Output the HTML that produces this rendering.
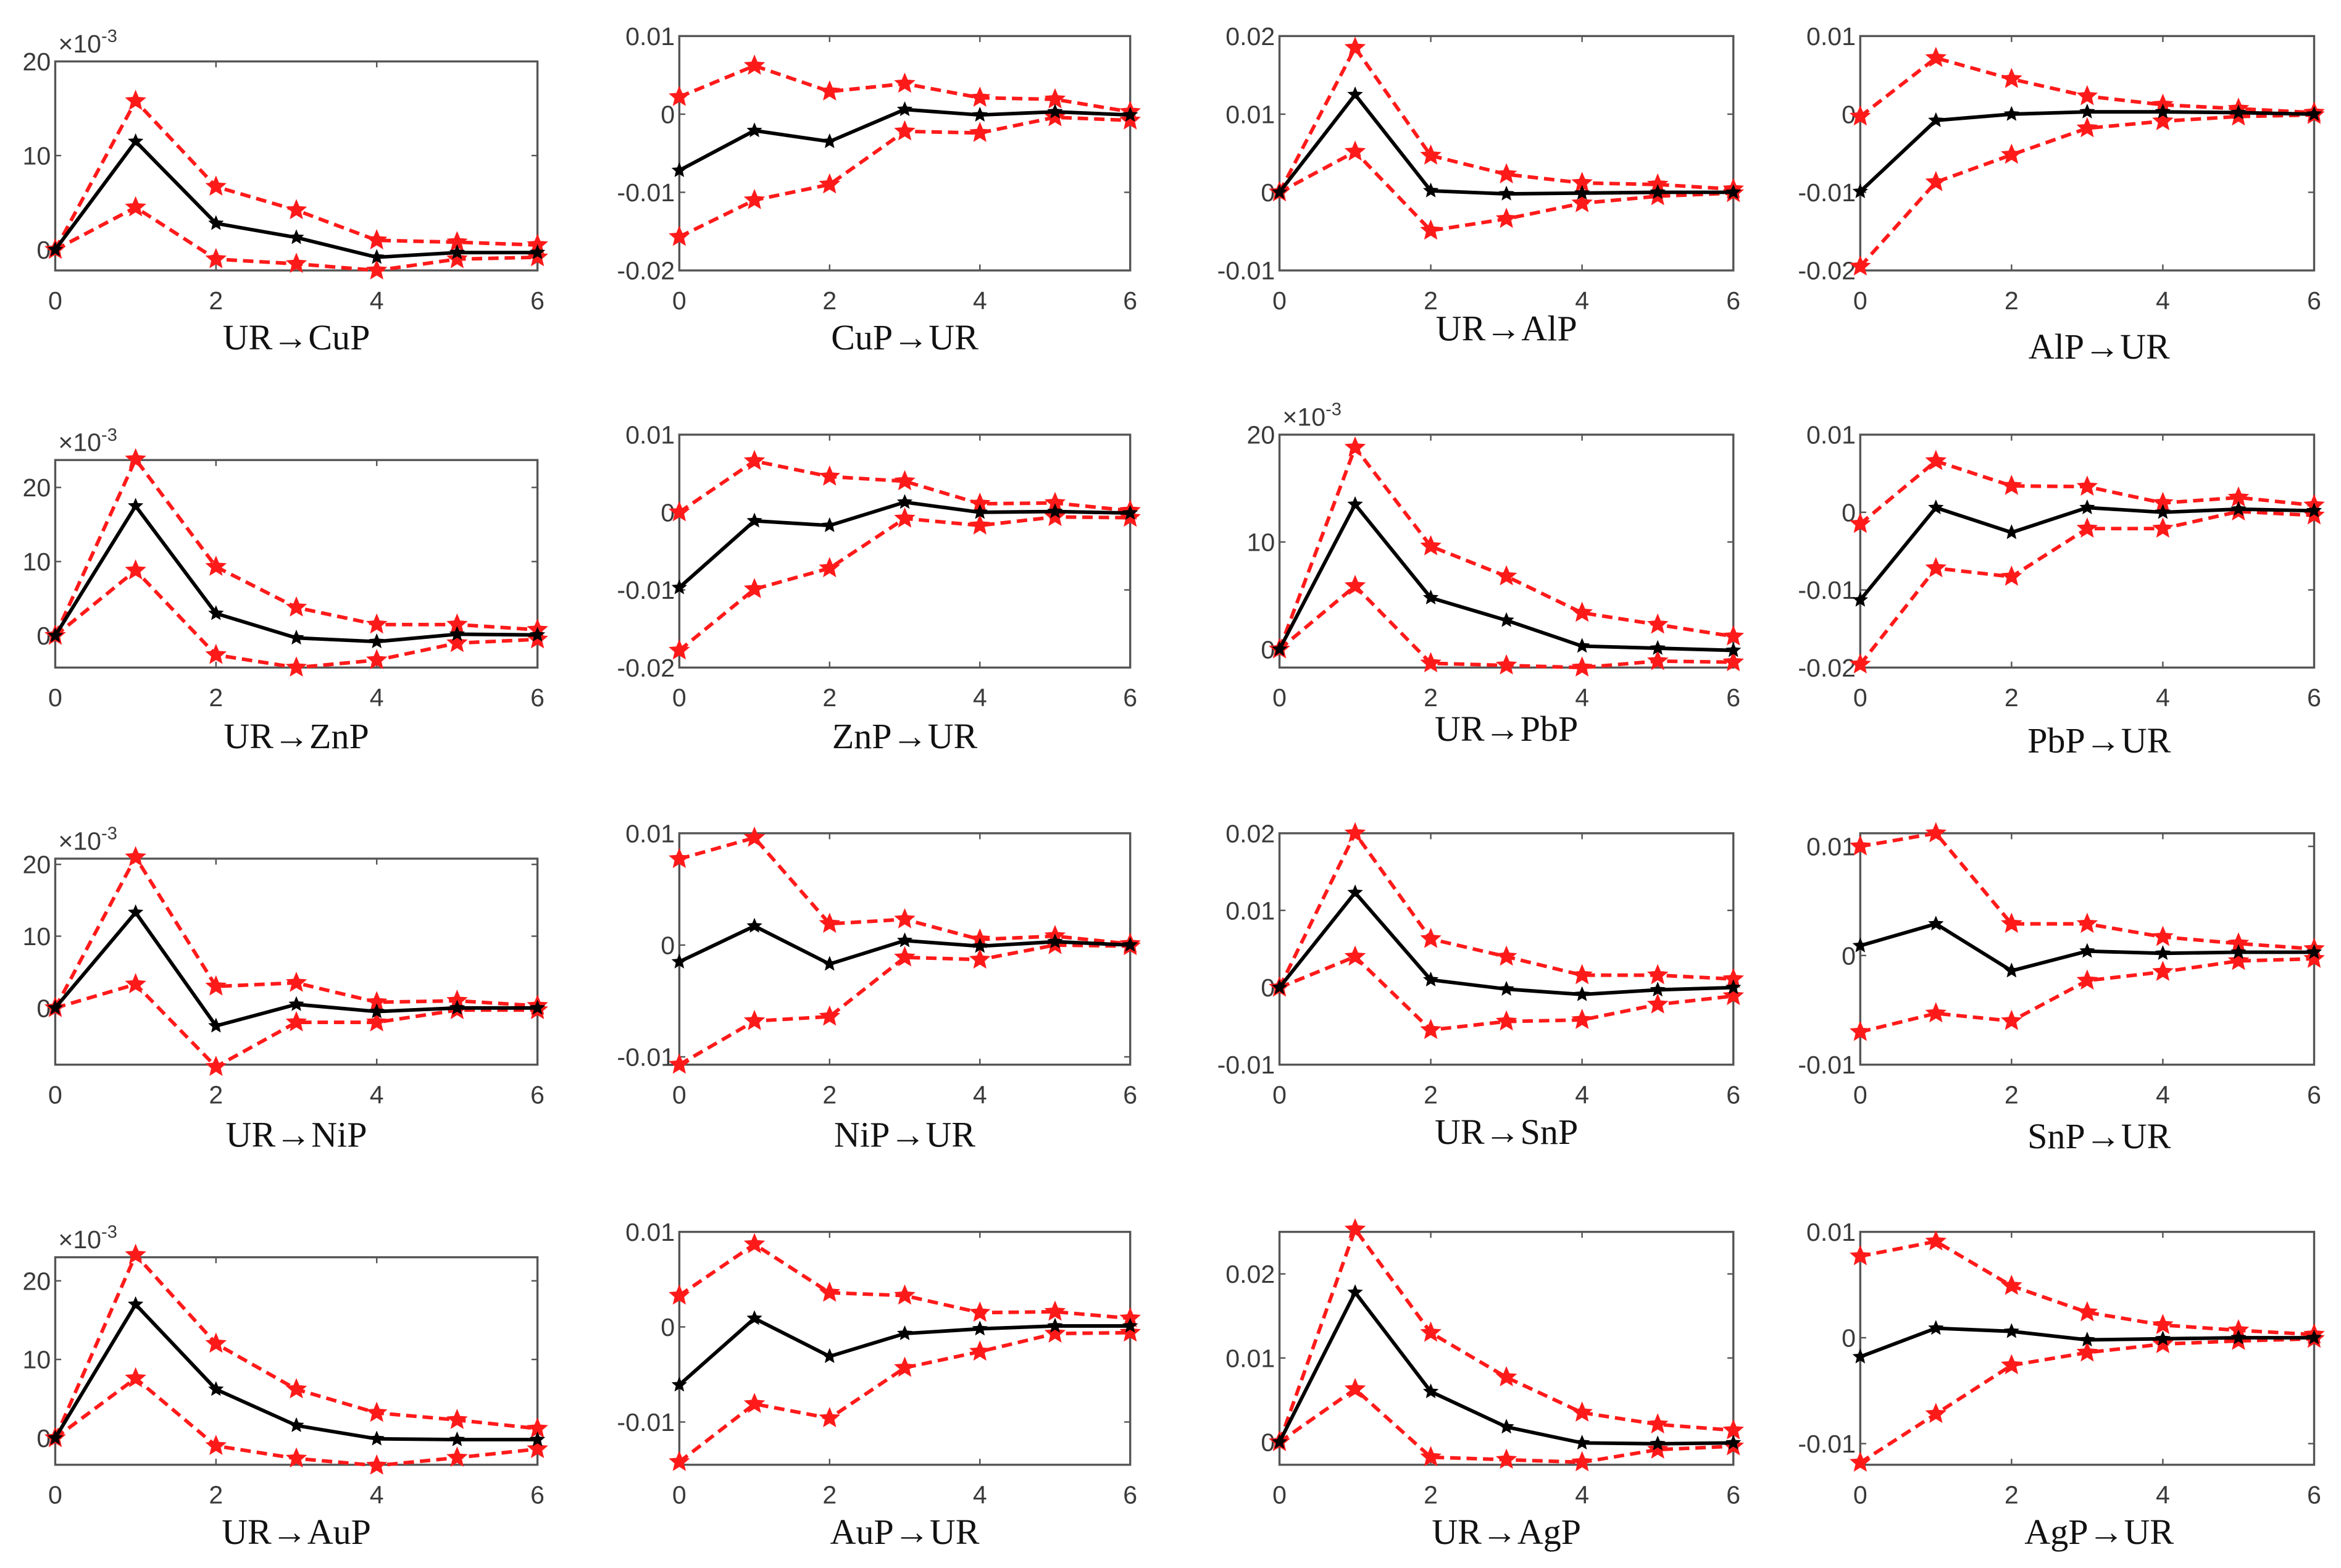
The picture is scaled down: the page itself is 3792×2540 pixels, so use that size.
<!DOCTYPE html>
<html><head><meta charset="utf-8"><style>
html,body{margin:0;padding:0;background:#fff}
svg{display:block}
.tk{font-family:"Liberation Sans",sans-serif;font-size:17px;fill:#3a3a3a}
.ti{font-family:"Liberation Serif",serif;font-size:24px;fill:#111}
</style></head><body>
<svg id="fig" xmlns="http://www.w3.org/2000/svg" width="3792" height="2540" viewBox="0 0 1568 1050"></svg>
<script>
const titles=["UR→CuP","CuP→UR","UR→AlP","AlP→UR","UR→ZnP","ZnP→UR","UR→PbP","PbP→UR","UR→NiP","NiP→UR","UR→SnP","SnP→UR","UR→AuP","AuP→UR","UR→AgP","AgP→UR"];
const periods=[0,1,2,3,4,5,6];
const xTicks=[0,2,4,6];
const yRanges=[[-2.2,20],[-0.02,0.01],[-0.01,0.02],[-0.02,0.01],[-4.3,23.7],[-0.02,0.01],[-1.7,20],[-0.02,0.01],[-7.9,20.8],[-0.0107,0.01],[-0.01,0.02],[-0.01,0.0112],[-3.4,23],[-0.0145,0.01],[-0.0027,0.025],[-0.012,0.01]];
const yTicks=[[0,10,20],[-0.02,-0.01,0,0.01],[-0.01,0,0.01,0.02],[-0.02,-0.01,0,0.01],[0,10,20],[-0.02,-0.01,0,0.01],[0,10,20],[-0.02,-0.01,0,0.01],[0,10,20],[-0.01,0,0.01],[-0.01,0,0.01,0.02],[-0.01,0,0.01],[0,10,20],[-0.01,0,0.01],[0,0.01,0.02],[-0.01,0,0.01]];
const yTickLabels=[["0","10","20"],["-0.02","-0.01","0","0.01"],["-0.01","0","0.01","0.02"],["-0.02","-0.01","0","0.01"],["0","10","20"],["-0.02","-0.01","0","0.01"],["0","10","20"],["-0.02","-0.01","0","0.01"],["0","10","20"],["-0.01","0","0.01"],["-0.01","0","0.01","0.02"],["-0.01","0","0.01"],["0","10","20"],["-0.01","0","0.01"],["0","0.01","0.02"],["-0.01","0","0.01"]];
const scaled=[true,false,false,false,true,false,true,false,true,false,false,false,true,false,false,false];
const midSeries=[
[0,11.5,2.8,1.3,-0.8,-0.3,-0.3],
[-0.0072,-0.0021,-0.0035,0.0006,-0.0001,0.0003,-0.0001],
[0,0.0125,0.0002,-0.0002,-0.0001,0,0],
[-0.0099,-0.0008,0,0.0003,0.0003,0.0002,0],
[0,17.5,3,-0.3,-0.8,0.2,0.1],
[-0.0097,-0.0011,-0.0017,0.0013,0,0.0001,-0.0001],
[0,13.5,4.8,2.7,0.3,0.1,-0.1],
[-0.0113,0.0006,-0.0026,0.0006,0,0.0004,0.0002],
[0,13.3,-2.5,0.5,-0.5,0,0],
[-0.0015,0.0017,-0.0017,0.0004,-0.0001,0.0003,0],
[0,0.0123,0.001,-0.0002,-0.0009,-0.0003,0],
[0.0009,0.0029,-0.0014,0.0004,0.0002,0.0003,0.0003],
[0,17,6.2,1.6,-0.1,-0.2,-0.2],
[-0.0061,0.0009,-0.0031,-0.0007,-0.0002,0.0001,0.0001],
[0,0.0178,0.006,0.0018,-0.0001,-0.0002,-0.0001],
[-0.0018,0.0009,0.0006,-0.0002,-0.0001,0,0]];
const upperSeries=[
[0,15.8,6.7,4.2,1.0,0.8,0.5],
[0.0022,0.0062,0.0029,0.0039,0.0021,0.0019,0.0003],
[0,0.0185,0.0047,0.0023,0.0012,0.001,0.0004],
[-0.0003,0.0072,0.0045,0.0023,0.0012,0.0007,0.0002],
[0,23.8,9.3,3.8,1.5,1.5,0.8],
[0,0.0066,0.0046,0.004,0.0011,0.0012,0.0002],
[0,18.8,9.6,6.8,3.4,2.3,1.2],
[-0.0015,0.0066,0.0034,0.0033,0.0012,0.0019,0.0009],
[0,21,3,3.5,0.8,1,0.3],
[0.0077,0.0096,0.0019,0.0023,0.0005,0.0008,0.0001],
[0,0.02,0.0063,0.004,0.0016,0.0016,0.0011],
[0.01,0.0112,0.0029,0.0029,0.0017,0.0011,0.0006],
[0,23.3,12,6.2,3.2,2.3,1.2],
[0.0033,0.0087,0.0036,0.0033,0.0015,0.0016,0.0009],
[0,0.0253,0.013,0.0077,0.0035,0.0021,0.0014],
[0.0077,0.0091,0.0049,0.0024,0.0012,0.0007,0.0003]];
const lowerSeries=[
[0,4.5,-1.0,-1.5,-2.2,-1.0,-0.8],
[-0.0157,-0.011,-0.009,-0.0022,-0.0024,-0.0004,-0.0008],
[0,0.0052,-0.0049,-0.0034,-0.0014,-0.0005,-0.0001],
[-0.0195,-0.0087,-0.0052,-0.0018,-0.0009,-0.0003,-0.0001],
[0,8.8,-2.6,-4.3,-3.3,-1,-0.5],
[-0.0178,-0.0099,-0.0072,-0.0008,-0.0017,-0.0006,-0.0007],
[0,5.9,-1.3,-1.5,-1.7,-1.1,-1.2],
[-0.0196,-0.0072,-0.0083,-0.0021,-0.0021,0.0001,-0.0004],
[0,3.3,-8.2,-2,-2,-0.3,-0.3],
[-0.0107,-0.0068,-0.0064,-0.0011,-0.0013,0,-0.0001],
[0,0.004,-0.0055,-0.0044,-0.0042,-0.0022,-0.0011],
[-0.007,-0.0053,-0.006,-0.0023,-0.0015,-0.0005,-0.0003],
[0,7.6,-1,-2.6,-3.5,-2.5,-1.4],
[-0.0142,-0.0081,-0.0096,-0.0043,-0.0026,-0.0007,-0.0006],
[0,0.0063,-0.0018,-0.0021,-0.0024,-0.0009,-0.0005],
[-0.0118,-0.0072,-0.0026,-0.0014,-0.0006,-0.0003,-0.0001]];

const colX=[[37,360],[455,757],[857,1161],[1246,1550]];
const rowBottom=[181,447,713,981];
const rowTopTall=[24,291,558,825];
const titleY=[[234,234,228,240],[501,501,496,504],[768,768,766,769],[1034,1034,1034,1034]];
const NS="http://www.w3.org/2000/svg";
const svg=document.getElementById('fig');
function mk(tag,attrs,parent){const e=document.createElementNS(NS,tag);for(const k in attrs)e.setAttribute(k,attrs[k]);(parent||svg).appendChild(e);return e;}
function starPts(cx,cy,r){let p=[];for(let i=0;i<10;i++){const a=-Math.PI/2+i*Math.PI/5;const rr=i%2?r*0.45:r;p.push((cx+rr*Math.cos(a)).toFixed(2)+","+(cy+rr*Math.sin(a)).toFixed(2));}return p.join(" ");}

for(let i=0;i<16;i++){
  const r=Math.floor(i/4),c=i%4;
  const x0=colX[c][0],x1=colX[c][1];
  const y1=rowBottom[r];
  const y0=scaled[i]&&!(i===6)?rowTopTall[r]+17:rowTopTall[r];
  const [ymin,ymax]=yRanges[i];
  const xs=v=>x0+(v-0)/(6-0)*(x1-x0);
  const ys=v=>y1-(v-ymin)/(ymax-ymin)*(y1-y0);
  const g=mk('g',{});
  
  
  const clipId='clip'+i;
  const cp=mk('clipPath',{id:clipId},g);mk('rect',{x:x0-10,y:y0-10,width:x1-x0+20,height:y1-y0+20},cp);
  const box=mk('rect',{x:x0,y:y0,width:x1-x0,height:y1-y0,fill:'none',stroke:'#555','stroke-width':1.4},g);
  
  
  xTicks.forEach(t=>{
    const X=xs(t);
    mk('line',{x1:X,x2:X,y1:y1,y2:y1-4,stroke:'#555','stroke-width':1},g);
    mk('line',{x1:X,x2:X,y1:y0,y2:y0+4,stroke:'#555','stroke-width':1},g);
    const tx=mk('text',{x:X,y:y1+26,'text-anchor':'middle',class:'tk'},g);tx.textContent=String(t);
    
    
  });
  yTicks[i].forEach((t,k)=>{
    const Y=ys(t);
    mk('line',{x1:x0,x2:x0+4,y1:Y,y2:Y,stroke:'#555','stroke-width':1},g);
    mk('line',{x1:x1,x2:x1-4,y1:Y,y2:Y,stroke:'#555','stroke-width':1},g);
    const ty=mk('text',{x:x0-3,y:Y+6,'text-anchor':'end',class:'tk'},g);ty.textContent=yTickLabels[i][k];
    
    
  });
  if(scaled[i]){
    const ex=mk('text',{x:x0+2,y:y0-6,class:'tk'},g);
    ex.innerHTML='×10<tspan dy="-7" font-size="12">-3</tspan>';
    
    
  }
  const pg=mk('g',{'clip-path':'url(#'+clipId+')'},g);
  [[upperSeries[i],'upper-band'],[lowerSeries[i],'lower-band']].forEach(([s,nm])=>{
    const pl=mk('polyline',{points:s.map((v,j)=>xs(periods[j])+','+ys(v)).join(' '),fill:'none',stroke:'#ff1a1a','stroke-width':2.4,'stroke-dasharray':'7,4'},pg);
    
    
    s.forEach((v,j)=>{const st=mk('polygon',{points:starPts(xs(periods[j]),ys(v),7.5),fill:'#ff1a1a'},pg);
      
      });
  });
  const ml=mk('polyline',{points:midSeries[i].map((v,j)=>xs(periods[j])+','+ys(v)).join(' '),fill:'none',stroke:'#000','stroke-width':2.4},pg);
  
  
  midSeries[i].forEach((v,j)=>{const st=mk('polygon',{points:starPts(xs(periods[j]),ys(v),5.5),fill:'#000'},pg);
    
    });
  const tt=mk('text',{x:(x0+x1)/2+(c===3?8:0),y:titleY[r][c],'text-anchor':'middle',class:'ti'},g);
  tt.textContent=titles[i];
  
  
}
</script>
</body></html>
